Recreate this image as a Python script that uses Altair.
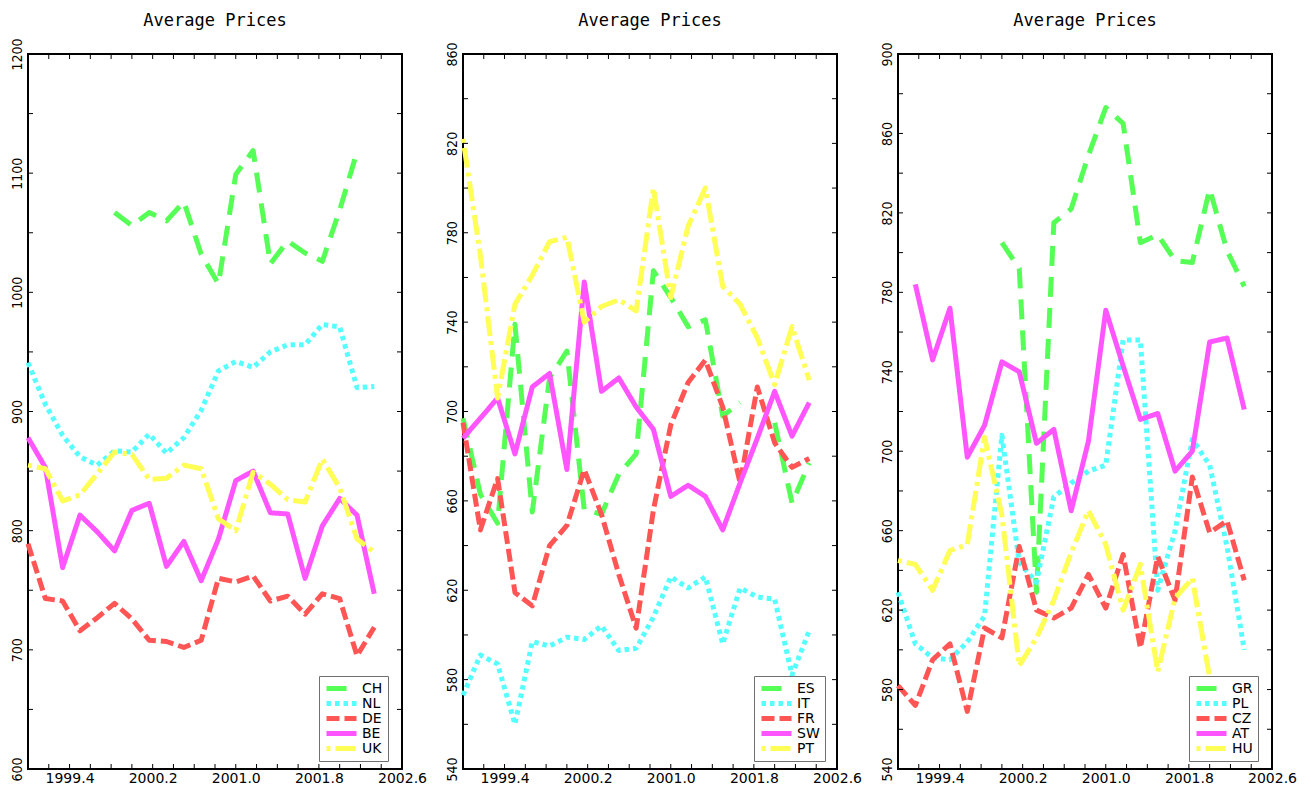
import altair as alt
import pandas as pd

# ---------------- data ----------------
TITLE = "Average Prices"

T = [1999.0, 1999.167, 1999.333, 1999.5, 1999.667, 1999.833,
     2000.0, 2000.167, 2000.333, 2000.5, 2000.667, 2000.833,
     2001.0, 2001.167, 2001.333, 2001.5, 2001.667, 2001.833,
     2002.0, 2002.167, 2002.333]

X_LABELS = [1999.4, 2000.2, 2001.0, 2001.8, 2002.6]
X_TICKS = [1999.2, 1999.4, 1999.6, 1999.8, 2000.0, 2000.2, 2000.4, 2000.6, 2000.8,
           2001.0, 2001.2, 2001.4, 2001.6, 2001.8, 2002.0, 2002.2, 2002.4]

# panel 1
P1_NAMES = ["CH", "NL", "DE", "BE", "UK"]
CH = [None, None, None, None, None, 1067, 1056, 1067, 1060, 1076, 1032, 1007, 1099,
      1119, 1024, 1043, 1033, 1026, 1069, 1118, None]
NL = [941, 906, 880, 862, 855, 867, 866, 881, 865, 878, 901, 934, 942, 937, 950,
      956, 956, 973, 971, 920, 921]
DE = [789, 743, 741, 716, 727, 739, 726, 708, 707, 702, 708, 760, 757, 762, 741,
      745, 730, 747, 743, 695, 719]
BE = [878, 853, 769, 813, 799, 783, 817, 823, 770, 791, 758, 793, 842, 850, 815,
      814, 760, 804, 827, 813, 747]
UK = [855, 852, 825, 830, 848, 866, 864, 843, 844, 855, 852, 810, 800, 849, 839,
      826, 824, 860, 836, 793, 782]
P1_YLAB = [600, 700, 800, 900, 1000, 1100, 1200]
P1_YTICK = [650, 700, 750, 800, 850, 900, 950, 1000, 1050, 1100, 1150]

# panel 2
P2_NAMES = ["ES", "IT", "FR", "SW", "PT"]
ES = [697, 663, 650, 739, 655, 715, 727, 656, 654, 672, 681, 763, 751, 738, 741,
      698, 704, None, 695, 659, 677]
IT = [573, 591, 587, 560, 597, 595, 599, 598, 604, 593, 594, 608, 626, 621, 626,
      596, 621, 617, 616, 582, 602]
FR = [695, 647, 670, 619, 613, 640, 649, 674, 654, 627, 603, 656, 694, 713, 723,
      702, 668, 711, 686, 675, 679]
SW = [688, 697, 706, 681, 711, 717, 674, 758, 709, 715, 702, 692, 662, 667, 662,
      647, 668, 688, 709, 689, 704]
PT = [822, 770, 706, 748, 761, 776, 778, 740, 747, 750, 745, 800, 751, 783, 800,
      756, 748, 733, 712, 738, 714]
P2_YLAB = [540, 580, 620, 660, 700, 740, 780, 820, 860]
P2_YTICK = [560, 580, 600, 620, 640, 660, 680, 700, 720, 740, 760, 780, 800, 820, 840]

# panel 3
P3_NAMES = ["GR", "PL", "CZ", "AT", "HU"]
GR = [None, None, None, None, None, None, 805, 792, 629, 815, 822, 849, 873, 865,
      805, 809, 796, 795, 832, 801, 783]
PL = [629, 603, 596, 595, 604, 617, 708, 644, 634, 677, 684, 690, 693, 756, 756,
      630, 660, 706, 693, 652, 600]
CZ = [582, 572, 595, 603, 569, 611, 606, 652, 620, 616, 621, 638, 621, 648, 601,
      647, 625, 687, 659, 665, 635]
AT = [None, 784, 746, 772, 697, 713, 745, 740, 704, 711, 670, 705, 771, 743, 716,
      719, 690, 700, 755, 757, 721]
HU = [645, 643, 630, 650, 653, 707, 668, 592, 606, 625, 649, 670, 653, 620, 643,
      589, 626, 636, 586, None, None]
P3_YLAB = [540, 580, 620, 660, 700, 740, 780, 820, 860, 900]
P3_YTICK = [560, 580, 600, 620, 640, 660, 680, 700, 720, 740, 760, 780, 800, 820,
            840, 860, 880]

COLORS = ["#55FF55", "#55FFFF", "#FF5555", "#FF55FF", "#FFFF55"]
DASHES = [[20, 11], [4.5, 4], [13, 5], [1, 0], [4, 5, 20, 5]]

W, H = 374, 715
TICK = 5
LABEL_FONT = "DejaVu Sans"
YLABEL_FONT = "Liberation Sans Narrow, DejaVu Sans Condensed, DejaVu Sans"

X_AXIS = alt.Axis(values=X_LABELS, format=".1f", labelFlush=False,
                  labelOverlap=False, ticks=False, domain=False, grid=False,
                  labelFont=LABEL_FONT, labelFontSize=14, labelColor="black",
                  labelPadding=2, title=None)


def y_axis(ylab):
    return alt.Axis(values=ylab, format="d", labelAngle=270, labelAlign="center",
                    labelBaseline="bottom", labelFlush=False, labelOverlap=False,
                    ticks=False, domain=False, grid=False, labelFont=YLABEL_FONT,
                    labelFontSize=14, labelColor="black", labelPadding=4,
                    title=None)


def panel(names, series, ydom, ylab, ytick):
    rows = []
    for n, vals in zip(names, series):
        for t, v in zip(T, vals):
            rows.append({"t": t, "v": v, "s": n})
    df = pd.DataFrame(rows)

    xscale = alt.Scale(domain=[1999.0, 2002.6], nice=False, zero=False)
    yscale = alt.Scale(domain=ydom, nice=False, zero=False)
    yax = y_axis(ylab)

    leg = alt.Legend(
        title=None, orient="none", legendX=291, legendY=622,
        symbolType="stroke", symbolSize=900, symbolStrokeWidth=5,
        clipHeight=15, rowPadding=0, labelFont=LABEL_FONT, labelFontSize=14,
        labelColor="black", labelOffset=3, padding=5,
        strokeColor="#707070", fillColor="white",
    )

    lines = alt.Chart(df).mark_line(strokeWidth=5, strokeJoin="round").encode(
        x=alt.X("t:Q", scale=xscale, title=None, axis=X_AXIS),
        y=alt.Y("v:Q", scale=yscale, title=None, axis=yax),
        color=alt.Color("s:N", scale=alt.Scale(domain=names, range=COLORS), legend=leg),
        strokeDash=alt.StrokeDash("s:N", scale=alt.Scale(domain=names, range=DASHES),
                                  legend=leg),
    )

    xt = pd.DataFrame({"t": X_TICKS})
    yt = pd.DataFrame({"v": ytick})
    tb = alt.Chart(xt).mark_rule(color="black", strokeWidth=1).encode(
        x=alt.X("t:Q", title=None, axis=X_AXIS), y=alt.value(H), y2=alt.value(H - TICK))
    tt = alt.Chart(xt).mark_rule(color="black", strokeWidth=1).encode(
        x=alt.X("t:Q", title=None, axis=X_AXIS), y=alt.value(0), y2=alt.value(TICK))
    tl = alt.Chart(yt).mark_rule(color="black", strokeWidth=1).encode(
        y=alt.Y("v:Q", title=None, axis=yax), x=alt.value(0), x2=alt.value(TICK))
    tr = alt.Chart(yt).mark_rule(color="black", strokeWidth=1).encode(
        y=alt.Y("v:Q", title=None, axis=yax), x=alt.value(W), x2=alt.value(W - TICK))

    title = alt.Chart(pd.DataFrame({"txt": [TITLE]})).mark_text(
        font="DejaVu Sans Mono", fontSize=17, color="black", align="center",
        baseline="alphabetic",
    ).encode(text="txt:N", x=alt.value(W / 2), y=alt.value(-28))

    return alt.layer(lines, tb, tt, tl, tr, title).properties(width=W, height=H)


p1 = panel(P1_NAMES, [CH, NL, DE, BE, UK], [600, 1200], P1_YLAB, P1_YTICK)
p2 = panel(P2_NAMES, [ES, IT, FR, SW, PT], [540, 860], P2_YLAB, P2_YTICK)
p3 = panel(P3_NAMES, [GR, PL, CZ, AT, HU], [540, 900], P3_YLAB, P3_YTICK)

chart = alt.hconcat(p1, p2, p3, spacing=61, bounds="flush").resolve_scale(
    color="independent", strokeDash="independent", x="independent", y="independent"
).properties(
    padding={"left": 0, "top": 3, "right": 5, "bottom": 0},
    background="white",
).configure_view(stroke="black", strokeWidth=2)

chart.save("out.html", embed_options={"renderer": "svg", "actions": False})
